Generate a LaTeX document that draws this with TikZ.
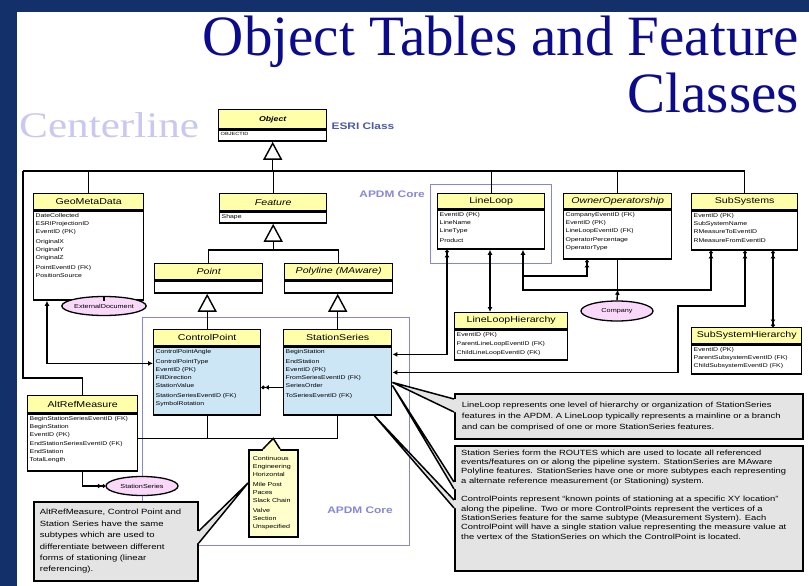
\documentclass[tikz,border=0pt]{standalone}
\usepackage{fontspec}
\setmainfont{Liberation Sans}
\newfontfamily\dg{Liberation Sans}[FakeStretch=1.25]
\newfontfamily\ttlfont{Liberation Serif}
\newfontfamily\ctlfont{Liberation Serif}[FakeStretch=1.2]
\usetikzlibrary{arrows.meta,shapes.geometric,calc}
\definecolor{navybg}{HTML}{13306B}
\definecolor{ttlblue}{HTML}{0B0B8C}
\definecolor{ctlcol}{HTML}{C8C8F0}
\definecolor{hdrY}{HTML}{FFFFAA}
\definecolor{bodyB}{HTML}{CDE6F6}
\definecolor{pinkE}{HTML}{F9D8F9}
\definecolor{noteG}{HTML}{E4E4E4}
\definecolor{noteY}{HTML}{FFFFCC}
\definecolor{apdmC}{HTML}{8686D8}
\definecolor{esriC}{HTML}{4B5AA8}

\tikzset{
  Fa/.tip={Latex[length=5pt,width=5pt]},
  Oa/.tip={Latex[length=4pt,width=5pt] Circle[open,fill=white,length=3.5pt,width=3.5pt]},
  Tri/.tip={Triangle[open,fill=white,length=18pt,width=19pt]},
  hdr/.style={draw, line width=1.4pt, fill=hdrY, anchor=north west, inner sep=0pt, font=\dg\fontsize{8.5}{9}\selectfont},
  bdy/.style={draw, line width=1.4pt, anchor=north west, inner sep=0pt},
  att/.style={anchor=north west, inner sep=0pt, align=left, font=\dg\fontsize{5.5}{8}\selectfont},
  conn/.style={line width=1.4pt},
  ell/.style={ellipse, draw, line width=1.3pt, fill=pinkE, inner sep=0pt, minimum width=72pt, minimum height=19pt, font=\dg\fontsize{5.8}{7}\selectfont},
  note/.style={anchor=north west, draw, line width=1.8pt, fill=noteG, inner sep=0pt},
  apdm/.style={anchor=north west, draw=apdmC, line width=1pt, inner sep=0pt},
  apdmlbl/.style={text=apdmC, inner sep=0pt, font=\dg\bfseries\fontsize{9.5}{10}\selectfont},
}

\newcommand\umlclass[8]{%
  \node[hdr, minimum width=#3pt, minimum height=#4pt] (#1) at #2 {#6};
  \node[bdy, fill=#8, minimum width=#3pt, minimum height=#5pt] (#1B) at (#1.south west) {};
  \node[att] (#1T) at ([shift={(2.5pt,-2.5pt)}]#1B.north west) {#7};
}
\newcommand\calloutw[5]{%
  \fill[noteG] ([yshift=-#3pt]#1) -- (#5) -- ([yshift=-#4pt]#1) -- ([xshift=#2pt,yshift=-#4pt]#1) -- ([xshift=#2pt,yshift=-#3pt]#1) -- cycle;
  \draw[line width=1.5pt] ([yshift=-#3pt]#1) -- (#5) -- ([yshift=-#4pt]#1);
}

\begin{document}
\begin{tikzpicture}[x=1pt,y=-1pt]
\useasboundingbox (0,0) rectangle (809,586);
\fill[navybg] (0,0) rectangle (809,586);
\fill[white] (17,12) rectangle (809,586);

% titles
\node[anchor=base east, inner sep=0pt, text=ttlblue, font=\ttlfont\fontsize{57}{60}\selectfont] (t1) at (799,56) {Object Tables and Feature};
\node[anchor=base east, inner sep=0pt, text=ttlblue, font=\ttlfont\fontsize{57}{60}\selectfont] (t2) at (799,113) {Classes};
\node[anchor=base west, inner sep=0pt, text=ctlcol, font=\ctlfont\fontsize{36}{40}\selectfont] (ctl) at (19,137) {Centerline};

% APDM core frames
\node[apdm, minimum width=121pt, minimum height=79pt] (apdmS) at (430,184) {};
\node[apdmlbl, anchor=east] (apdmSl) at ([xshift=-5pt,yshift=-10pt]apdmS.north west) {APDM Core};
\node[apdm, minimum width=267pt, minimum height=228pt] (apdmB) at (142,317) {};
\node[apdmlbl] (apdmBl) at ([xshift=-50pt,yshift=36pt]apdmB.south east) {APDM Core};

% classes
\umlclass{obj}{(218,109)}{108}{19}{11}{\fontsize{7}{8}\selectfont\bfseries\itshape Object}{{\fontsize{4.5}{5}\selectfont OBJECTID}}{white}
\node[anchor=west, inner sep=0pt, text=esriC, font=\dg\bfseries\fontsize{9.5}{10}\selectfont] (esri) at ([xshift=4pt,yshift=3pt]obj.south east) {ESRI Class};

\umlclass{gm}{(33,193)}{110}{16}{89}{GeoMetaData}{DateCollected\\ESRIProjectionID\\EventID (PK)\\[2pt]OriginalX\\OriginalY\\OriginalZ\\[2pt]PointEventID (FK)\\PositionSource}{white}
\umlclass{feat}{(219,193)}{107}{17}{11}{\itshape Feature}{Shape}{white}
\umlclass{pt}{(154,263)}{108}{16}{12}{\itshape Point}{}{white}
\umlclass{pl}{(284,263)}{108}{16}{12}{\itshape Polyline (MAware)}{}{white}
\umlclass{ll}{(437,193)}{107}{15}{39}{LineLoop}{EventID (PK)\\LineName\\LineType\\[2pt]Product}{white}
\umlclass{oo}{(563,193)}{108}{15}{49}{\itshape OwnerOperatorship}{CompanyEventID (FK)\\EventID (PK)\\LineLoopEventID (FK)\\[1pt]OperatorPercentage\\OperatorType}{white}
\umlclass{sub}{(691,193)}{106}{16}{39}{SubSystems}{EventID (PK)\\SubSystemName\\RMeasureToEventID\\[1pt]RMeasureFromEventID}{white}
\umlclass{llh}{(454,312)}{113}{16}{30}{LineLoopHierarchy}{EventID (PK)\\[1pt]ParentLineLoopEventID (FK)\\[1pt]ChildLineLoopEventID (FK)}{white}
\umlclass{ssh}{(691,327)}{110}{16}{29}{SubSystemHierarchy}{EventID (PK)\\ParentSubsystemEventID (FK)\\ChildSubsystemEventID (FK)}{white}
\umlclass{cp}{(153,329)}{107}{16}{68}{ControlPoint}{ControlPointAngle\\[2pt]ControlPointType\\EventID (PK)\\FillDirection\\StationValue\\[2pt]StationSeriesEventID (FK)\\SymbolRotation}{bodyB}
\umlclass{ss}{(283,329)}{108}{16}{68}{StationSeries}{BeginStation\\[2pt]EndStation\\EventID (PK)\\FromSeriesEventID (FK)\\SeriesOrder\\[2pt]ToSeriesEventID (FK)}{bodyB}
\umlclass{ar}{(27,395)}{110}{17}{57}{AltRefMeasure}{BeginStationSeriesEventID (FK)\\BeginStation\\EventID (PK)\\[1pt]EndStationSeriesEventID (FK)\\EndStation\\TotalLength}{white}

% ellipses
\node[ell] (ed) at (104,306) {ExternalDocument};
\node[ell, minimum height=20pt] (co) at (617,311) {Company};
\node[ell] (sse) at (142,486) {StationSeries};

% inheritance
\coordinate (busY) at ([yshift=22pt]feat.north);
\coordinate (busW) at ($(ar.north west |- busY)+(-4,0)$);
\draw[conn] (busW) -- (sub.north |- busY);
\draw[conn] (busW) |- ([yshift=17pt]ar.north) -- (ar.north);
\draw[conn] (gm.north |- busY) -- (gm.north);
\draw[conn] (feat.north |- busY) -- (feat.north);
\draw[conn] (ll.north |- busY) -- (ll.north);
\draw[conn] (oo.north |- busY) -- (oo.north);
\draw[conn] (sub.north |- busY) -- (sub.north);
\draw[conn, -{Tri}] (objB.south |- busY) -- (objB.south);
\coordinate (fbar) at ([yshift=-26pt]featB.south);
\draw[conn, -{Tri}] (fbar) -- (featB.south);
\draw[conn] (pt.north) |- (fbar) -| (pl.north);
\draw[conn, -{Tri}] (cp.north) -- (cp.north |- ptB.south);
\draw[conn, -{Tri}] (ss.north) -- (ss.north |- plB.south);

% relationships
\draw[conn, {Fa}-{Fa}] ([xshift=14pt]gmB.south west) |- ([yshift=-17pt]cpB.north west);
\draw[conn] (gmB.south -| ed.north) -- (ed.north);
\draw[conn, -{Oa}] (arB.south) |- (sse.west);
\draw[conn, {Oa}-] ([yshift=-41pt]cpB.north east) -- ([yshift=-41pt]ssB.north west);
\coordinate (sub5) at ([yshift=-25pt]arB.north east);
\draw[conn] (sub5) -| (ssB.south);
\draw[conn] (cpB.south) -- (cpB.south |- sub5);
\draw[conn, {Oa}-{Fa}] ([xshift=10pt]llB.south west) |- ([yshift=-8pt]ssB.north east);
\coordinate (p7) at ([xshift=36pt]llh.north west);
\draw[conn, {Fa}-{Fa}] (p7 |- llB.south) -- (p7);
\coordinate (p8) at ([xshift=86pt]llB.south west);
\coordinate (jn) at ([yshift=-30pt]ooB.south);
\draw[conn, {Fa}-{Oa}] (p8) |- (jn) -| ([xshift=20pt]subB.south west);
\draw[conn, {Oa}-] ([xshift=24pt]ooB.south west) |- ([yshift=-26pt]p8);
\draw[conn] (ooB.south) -- (jn);
\draw[conn, -{Fa}] (co.north) -- (jn);
\coordinate (p11) at ([xshift=-13pt,yshift=-55pt]subB.south west);
\draw[conn, {Oa}-{Fa}] ([xshift=54pt]subB.south west) |- (p11) |- ([yshift=-26pt]ssB.north east);
\draw[conn, {Oa}-{Oa}] ([xshift=82pt]subB.south west) -- ([xshift=82pt]ssh.north west);

% notes
\coordinate (tipA) at ([yshift=-36pt]ssB.north east);
\coordinate (tipB) at ([yshift=-39pt]ssB.north east);
\coordinate (tipC) at ([xshift=-18pt]ssB.south east);

\node[note, minimum width=348pt, minimum height=45pt, text width=334pt, inner xsep=7pt, align=left, font=\dg\fontsize{7.5}{11}\selectfont] (n1) at (454,393)
{LineLoop represents one level of hierarchy or organization of StationSeries\\features in the APDM. A LineLoop typically represents a mainline or a branch\\and can be comprised of one or more StationSeries features.};
\calloutw{n1.north west}{2}{6}{19}{tipA}

\node[note, minimum width=348pt, minimum height=125pt] (n2) at (454,445) {};
\node[anchor=north west, inner sep=0pt, align=left, font=\dg\fontsize{7.5}{9.3}\selectfont] (n2t) at ([shift={(7pt,-4.5pt)}]n2.north west)
{Station Series form the ROUTES which are used to locate all referenced\\
events/features on or along the pipeline system. StationSeries are MAware\\
Polyline features. StationSeries have one or more subtypes each representing\\
a alternate reference measurement (or Stationing) system.\\[9.5pt]
ControlPoints represent “known points of stationing at a specific XY location”\\
along the pipeline. Two or more ControlPoints represent the vertices of a\\
StationSeries feature for the same subtype (Measurement System). Each\\
ControlPoint will have a single station value representing the measure value at\\
the vertex of the StationSeries on which the ControlPoint is located.};
\calloutw{n2.north west}{2}{37}{44}{tipB}
\calloutw{n2.north west}{2}{55}{63}{tipC}

\node[note, minimum width=164pt, minimum height=79pt, text width=152pt, inner xsep=6pt, align=left, font=\dg\fontsize{7.6}{11.4}\selectfont] (gn) at (33,501)
{AltRefMeasure, Control Point and\\Station Series have the same\\subtypes which are used to\\differentiate between different\\forms of stationing (linear\\referencing).};

\node[anchor=north west, draw, line width=1.5pt, fill=noteY, minimum width=49pt, minimum height=87pt, text width=41pt, inner xsep=4pt, inner ysep=0pt, align=left, font=\dg\fontsize{5.7}{8}\selectfont] (yn) at (248,449)
{Continuous\\Engineering\\Horizontal\\[2pt]Mile Post\\Paces\\Slack Chain\\[2pt]Valve\\Section\\Unspecified};
\coordinate (ynTip) at (yn.north |- sub5);
\fill[noteY] ([xshift=15pt]yn.north west) -- (ynTip) -- ([xshift=32pt]yn.north west) -- ([xshift=32pt,yshift=-2pt]yn.north west) -- ([xshift=15pt,yshift=-2pt]yn.north west) -- cycle;
\draw[line width=1.5pt] ([xshift=15pt]yn.north west) -- (ynTip) -- ([xshift=32pt]yn.north west);
\coordinate (tipY) at ([yshift=-34pt]yn.north west);
\calloutw{gn.north east}{-2}{30}{42}{tipY}
\end{tikzpicture}
\end{document}
